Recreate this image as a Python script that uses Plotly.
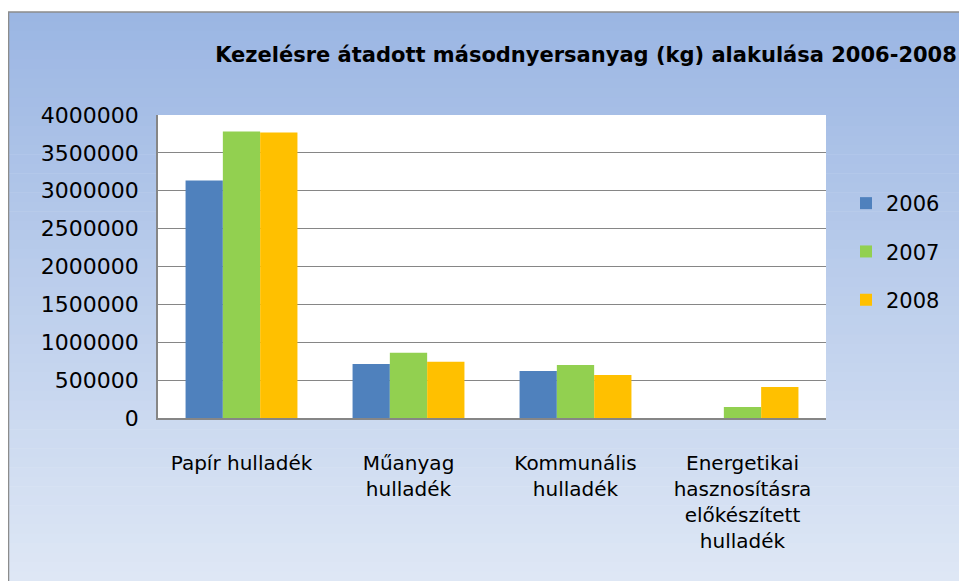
import plotly.graph_objects as go

# Data
categories = [
    "Papír hulladék",
    "Műanyag<br>hulladék",
    "Kommunális<br>hulladék",
    "Energetikai<br>hasznosításra<br>előkészített<br>hulladék",
]
years = ["2006", "2007", "2008"]
values_2006 = [3135000, 714000, 622000, 0]
values_2007 = [3783000, 860000, 701000, 145000]
values_2008 = [3770000, 741000, 569000, 410000]
tick_vals = [0, 500000, 1000000, 1500000, 2000000, 2500000, 3000000, 3500000, 4000000]

COLORS = ["#4F81BD", "#92D050", "#FFC000"]
FONT = "DejaVu Sans, sans-serif"

# page is rendered with an 8px body margin, so work in page pixels and shift
OFF = 8
W, H = 967 - OFF, 581 - OFF
PLOT_L, PLOT_R, PLOT_T, PLOT_B = 158, 826, 115, 418  # page pixels
M_L, M_R = PLOT_L - OFF, W - (PLOT_R - OFF)
M_T, M_B = PLOT_T - OFF, H - (PLOT_B - OFF)
PW, PH = W - M_L - M_R, H - M_T - M_B


def px_x(x):
    return (x - PLOT_L) / PW


def px_y(y):
    return (PLOT_B - y) / PH


fig = go.Figure()
for year, vals, color in zip(years, [values_2006, values_2007, values_2008], COLORS):
    fig.add_trace(go.Bar(
        x=categories,
        y=vals,
        name=year,
        legendgroup=year,
        marker={"color": color, "line": {"width": 0}},
    ))

# Vertical gradient background of the chart area (light blue)
shapes = []
top_rgb = (155, 182, 227)
bot_rgb = (222, 231, 245)
y0_px, y1_px = 12, 581
steps = 60
for i in range(steps):
    t = i / (steps - 1)
    c = tuple(round(a + (b - a) * t) for a, b in zip(top_rgb, bot_rgb))
    ya = y0_px + (y1_px - y0_px) * i / steps
    yb = min(y0_px + (y1_px - y0_px) * (i + 1) / steps + 0.6, y1_px)
    shapes.append(dict(
        type="rect", xref="paper", yref="paper", layer="below",
        x0=px_x(OFF), x1=px_x(980), y0=px_y(ya), y1=px_y(yb),
        fillcolor="rgb(%d,%d,%d)" % c, line={"width": 0},
    ))
# outer chart border
shapes.append(dict(
    type="rect", xref="paper", yref="paper", layer="below",
    x0=px_x(OFF + 0.5), x1=px_x(990), y0=px_y(600), y1=px_y(12),
    fillcolor="rgba(0,0,0,0)", line={"color": "#8C8C8C", "width": 1.5},
))
# white plot area
shapes.append(dict(
    type="rect", xref="paper", yref="paper", layer="below",
    x0=0, x1=1, y0=0, y1=1,
    fillcolor="white", line={"width": 0},
))

fig.update_layout(
    width=W,
    height=H,
    margin={"l": M_L, "r": M_R, "t": M_T, "b": M_B, "autoexpand": False},
    paper_bgcolor="white",
    plot_bgcolor="white",
    font={"family": FONT, "size": 20, "color": "#000000"},
    barmode="group",
    bargap=0.33,
    bargroupgap=0,
    shapes=shapes,
    title={
        "text": "<b>Kezelésre átadott másodnyersanyag (kg) alakulása 2006-2008</b>",
        "xref": "container", "yref": "container",
        "x": (586 - OFF) / W, "xanchor": "center",
        "y": 1 - (55 - OFF) / H, "yanchor": "middle",
        "font": {"family": FONT, "size": 21, "color": "#000000"},
    },
    legend={
        "x": px_x(846), "xanchor": "left",
        "y": px_y(183), "yanchor": "top",
        "bgcolor": "rgba(0,0,0,0)",
        "traceorder": "grouped",
        "tracegroupgap": 18,
        "font": {"family": FONT, "size": 21, "color": "#000000"},
    },
    xaxis={
        "showgrid": False,
        "showline": True,
        "linecolor": "#868686",
        "linewidth": 2,
        "ticks": "",
        "ticklabelstandoff": 26,
        "tickfont": {"family": FONT, "size": 20},
        "fixedrange": True,
    },
    yaxis={
        "range": [0, 4000000],
        "tickvals": tick_vals,
        "tickformat": "d",
        "showgrid": True,
        "gridcolor": "#868686",
        "gridwidth": 1.2,
        "showline": True,
        "linecolor": "#868686",
        "linewidth": 1.5,
        "zeroline": False,
        "ticks": "",
        "ticklabelstandoff": 13,
        "tickfont": {"family": FONT, "size": 22},
        "fixedrange": True,
    },
)

fig.write_html("out.html")
